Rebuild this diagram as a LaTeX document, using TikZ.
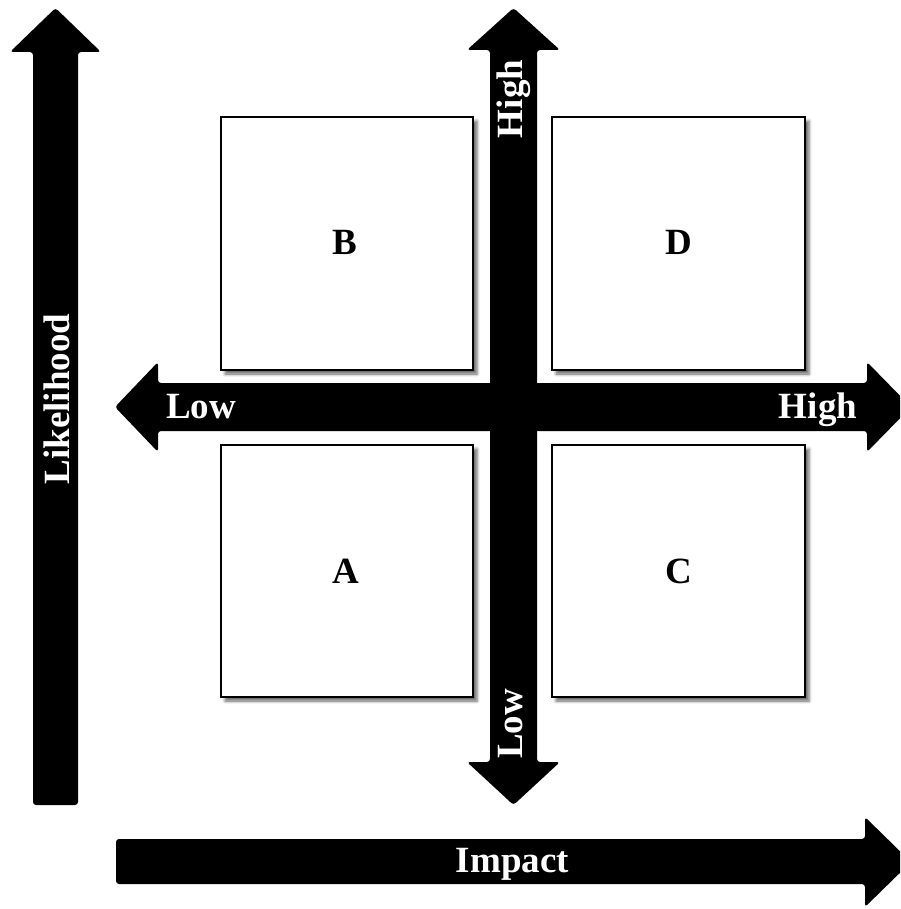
\documentclass[tikz,border=0pt]{standalone}
\usepackage{fontspec}
\setmainfont{Liberation Serif}
\usetikzlibrary{shadows.blur}
\begin{document}
\begin{tikzpicture}[x=1pt,y=-1pt,
  arrowbody/.style={fill=black,rounded corners=3pt},
  quadbox/.style={draw=black,line width=2.6pt,fill=white,
    blur shadow={shadow xshift=4pt,shadow yshift=-4pt,shadow blur radius=3pt,shadow opacity=60}},
  quadlabel/.style={font=\fontsize{37}{40}\selectfont\bfseries,text=black},
  axislabel/.style={font=\fontsize{37}{40}\selectfont\bfseries,text=white,inner sep=0pt,anchor=base}]
\useasboundingbox (0,0) rectangle (900,909);
\clip (0,0) rectangle (900,909);
% quadrant boxes
\draw[quadbox] (221,117) rectangle (473,370);
\draw[quadbox] (552,117) rectangle (805,370);
\draw[quadbox] (221,445) rectangle (473,697);
\draw[quadbox] (552,445) rectangle (805,697);
\node[quadlabel] (B) at (345,242) {B};
\node[quadlabel] (D) at (679,242) {D};
\node[quadlabel] (A) at (346,571) {A};
\node[quadlabel] (C) at (679,571) {C};
% Likelihood arrow
\fill[arrowbody] (33,805) -- (33,52) -- (10,52) -- (55.5,8) -- (101,52) -- (78,52) -- (78,805) -- cycle;
\node[axislabel,rotate=90] (like) at (69,399) {Likelihood};
% Impact arrow
\fill[arrowbody] (116,839) -- (865,839) -- (865,817) -- (911,862) -- (865,907) -- (865,884) -- (116,884) -- cycle;
\node[axislabel] (impact) at (512.5,872) {Impact};
% vertical centre arrow
\fill[arrowbody] (490,50) -- (467,50) -- (513.5,8) -- (560,50) -- (537,50) -- (537,762) -- (560,762) -- (513.5,805) -- (467,762) -- (490,762) -- cycle;
% horizontal centre arrow
\fill[arrowbody] (158,383) -- (158,362) -- (115,407) -- (158,452) -- (158,431) -- (867,431) -- (867,452) -- (911,407) -- (867,362) -- (867,383) -- cycle;
\node[axislabel] (lowh) at (201,418) {Low};
\node[axislabel] (highh) at (818,418) {High};
\node[axislabel,rotate=90] (highv) at (522,99) {High};
\node[axislabel,rotate=90] (lowv) at (522,724) {Low};
\end{tikzpicture}
\end{document}
